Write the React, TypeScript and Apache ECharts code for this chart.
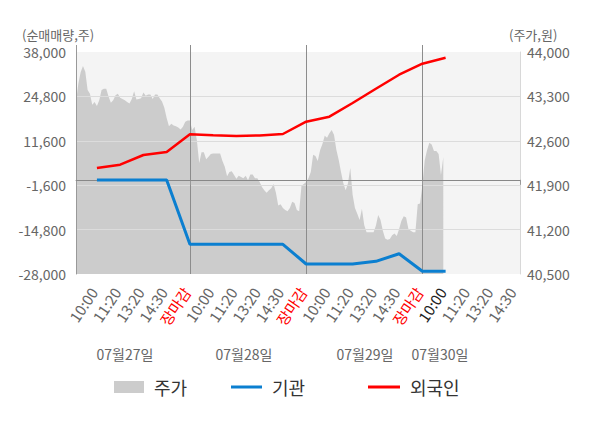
import React, { useEffect, useRef } from "react";
import * as echarts from "echarts";

// ---- data ----
const dayLabels = ["07월27일", "07월28일", "07월29일", "07월30일"];
const sessionTicks = ["10:00", "11:20", "13:20", "14:30", "장마감"];
const lastDayTicks = ["10:00", "11:20", "13:20", "14:30"];
const leftTicks = [-28000, -14800, -1600, 11600, 24800, 38000];
const rightTicks = [40500, 41200, 41900, 42600, 43300, 44000];

// 주가 (price), one value per time slot
const price = [
  43210, 43500, 43680, 43780, 43690, 43400, 43340, 43170, 43210, 43150,
  43240, 43400, 43420, 43420, 43300, 43200, 43240, 43320, 43340, 43280,
  43260, 43240, 43210, 43190, 43260, 43380, 43250, 43260, 43270, 43360,
  43310, 43330, 43330, 43260, 43330, 43330, 43270, 43220, 43120, 42960,
  42830, 42870, 42840, 42830, 42810, 42780, 42820, 42900, 42920, 42920,
  42770, 42820, 42610, 42250, 42420, 42420, 42310, 42350, 42390, 42400,
  42400, 42400, 42400, 42280, 42190, 42040, 42110, 42120, 42060, 42000,
  42050, 42030, 42010, 42050, 41980, 42070, 42070, 42010, 42010, 41950,
  41870, 41820, 41780, 41820, 41850, 41920, 41780, 41580, 41600, 41540,
  41510, 41490, 41540, 41640, 41620, 41510, 41490, 41890, 41920, 41950,
  42010, 42110, 42380, 42360, 42280, 42450, 42550, 42680, 42650, 42720,
  42770, 42690, 42460, 42300, 42110, 41930, 41820, 41930, 42170, 41750,
  41540, 41450, 41350, 41530, 41270, 41160, 41160, 41160, 41160, 41260,
  41430, 41350, 41180, 41060, 41040, 41050, 41110, 41140, 41100, 41210,
  41340, 41410, 41390, 41210, 41180, 41160, 41160, 41600, 41610, 41900,
  42290, 42450, 42570, 42540, 42440, 42440, 42390, 42060, 42340,
];

// 순매매량 at each labelled time point
const institution = [
  -50, -50, -50, -50, -19170,
  -19170, -19170, -19170, -19170, -25030,
  -25030, -25030, -24240, -21970, -27200,
  -27200,
];
const foreign = [
  3510, 4490, 7380, 8270, 13530,
  13230, 13030, 13180, 13620, 17280,
  18770, 22840, 27090, 31250, 34530,
  36300,
];

// ---- axis structure ----
const SLOTS_PER_TICK = 10;
const TOTAL_SLOTS = 192;
const tickTexts = [...sessionTicks, ...sessionTicks, ...sessionTicks, ...lastDayTicks];
const tickSlot = (k: number) => (k + 1) * SLOTS_PER_TICK - 1;
const categories = Array.from({ length: TOTAL_SLOTS }, (_, i) => String(i));
const labelAt = new Map<number, { text: string; k: number }>();
tickTexts.forEach((t, k) => labelAt.set(tickSlot(k), { text: t, k }));
const dayEnds: number[] = [];
tickTexts.forEach((t, k) => {
  if (t === "장마감") dayEnds.push(tickSlot(k));
});
const tickMarks = [0, ...dayEnds, TOTAL_SLOTS - 1];
const latestTick = 3 * sessionTicks.length; // first tick of last day

const toSlots = (vals: number[]) => {
  const arr: (number | null)[] = new Array(TOTAL_SLOTS).fill(null);
  vals.forEach((v, k) => {
    arr[tickSlot(k)] = v;
  });
  return arr;
};

const fmt = (v: number) => String(v).replace(/\B(?=(\d{3})+(?!\d))/g, ",");

const FONT = '"Noto Sans CJK KR", "Noto Sans", sans-serif';
const dayLabelX = [125, 244, 365, 440];

export default function App() {
  const ref = useRef<HTMLDivElement>(null);
  useEffect(() => {
    if (!ref.current) return;
    const chart = echarts.init(ref.current, undefined, { renderer: "svg" });
    const legendBase = {
      top: 378,
      padding: 0,
      itemWidth: 30,
      selectedMode: false,
      textStyle: { fontSize: 18, color: "#333", fontFamily: FONT, padding: [0, 0, 0, 5] },
    };
    const texts = [
      {
        type: "text",
        x: 22,
        y: 34,
        style: { text: "(순매매량,주)", font: `13px ${FONT}`, fill: "#666", align: "left", verticalAlign: "middle" },
      },
      {
        type: "text",
        x: 509,
        y: 34,
        style: { text: "(주가,원)", font: `13px ${FONT}`, fill: "#666", align: "left", verticalAlign: "middle" },
      },
      ...dayLabels.map((d, i) => ({
        type: "text",
        x: dayLabelX[i],
        y: 353.5,
        style: { text: d, font: `14px ${FONT}`, fill: "#666", align: "center", verticalAlign: "middle" },
      })),
    ];
    chart.setOption({
      animation: false,
      textStyle: { fontFamily: FONT },
      grid: {
        left: 76,
        right: 80,
        top: 52,
        bottom: 154,
        show: true,
        backgroundColor: "#f4f4f4",
        borderWidth: 0,
      },
      legend: [
        { ...legendBase, left: 114, itemHeight: 12, data: [{ name: "주가", icon: "rect" }] },
        { ...legendBase, left: 231, itemWidth: 31, itemHeight: 3, data: [{ name: "기관", icon: "rect" }] },
        { ...legendBase, left: 368, itemWidth: 32, itemHeight: 3, data: [{ name: "외국인", icon: "rect" }] },
      ],
      graphic: texts,
      xAxis: {
        type: "category",
        data: categories,
        boundaryGap: false,
        z: 3,
        axisLine: { show: true, lineStyle: { color: "#999" } },
        axisTick: {
          show: true,
          length: 5,
          interval: (i: number) => tickMarks.includes(i),
          lineStyle: { color: "#999" },
        },
        axisLabel: {
          interval: (i: number) => labelAt.has(i),
          rotate: 56,
          margin: 10,
          padding: [0, 6, 0, 0],
          fontSize: 15,
          fontFamily: FONT,
          formatter: (v: string) => labelAt.get(Number(v))?.text ?? "",
          color: (v: string) => {
            const l = labelAt.get(Number(v));
            if (!l) return "#666";
            if (l.text === "장마감") return "#ff0000";
            if (l.k === latestTick) return "#222";
            return "#666";
          },
        },
        splitLine: {
          show: true,
          interval: (i: number) => dayEnds.includes(i),
          lineStyle: { color: "#8c8c8c", width: 1 },
        },
      },
      yAxis: [
        {
          type: "value",
          position: "left",
          min: leftTicks[0],
          max: leftTicks[leftTicks.length - 1],
          z: 3,
          axisLine: { show: true, lineStyle: { color: "#999" } },
          axisTick: { show: false, customValues: leftTicks.slice(1, -1) },
          axisLabel: {
            customValues: leftTicks,
            formatter: (v: number) => fmt(v),
            color: "#666",
            fontSize: 14,
            fontFamily: FONT,
            margin: 10,
          },
          splitLine: { show: true, lineStyle: { color: "#dcdcdc", width: 1 } },
        },
        {
          type: "value",
          position: "right",
          min: rightTicks[0],
          max: rightTicks[rightTicks.length - 1],
          z: 3,
          axisLine: { show: true, lineStyle: { color: "#d8d8d8" } },
          axisTick: { show: false, customValues: rightTicks },
          axisLabel: {
            customValues: rightTicks,
            formatter: (v: number) => fmt(v),
            color: "#666",
            fontSize: 14,
            fontFamily: FONT,
            margin: 7,
          },
          splitLine: { show: false },
        },
      ],
      series: [
        {
          name: "주가",
          type: "line",
          yAxisIndex: 1,
          data: price,
          symbol: "none",
          z: 2,
          itemStyle: { color: "#cccccc" },
          lineStyle: { width: 0, color: "#cccccc" },
          areaStyle: { color: "#cccccc", opacity: 1, origin: "start" },
        },
        {
          name: "기관",
          type: "line",
          yAxisIndex: 0,
          data: toSlots(institution),
          connectNulls: true,
          symbol: "none",
          z: 5,
          itemStyle: { color: "#0b7fd0" },
          lineStyle: { color: "#0b7fd0", width: 3 },
          markLine: {
            silent: true,
            z: 4,
            symbol: ["none", "none"],
            label: { show: false },
            lineStyle: { color: "#888", width: 1, type: "solid" },
            data: [{ yAxis: 0 }],
          },
        },
        {
          name: "외국인",
          type: "line",
          yAxisIndex: 0,
          data: toSlots(foreign),
          connectNulls: true,
          symbol: "none",
          z: 6,
          itemStyle: { color: "#ff0000" },
          lineStyle: { color: "#ff0000", width: 2.5 },
        },
      ],
    });

    // short extensions of the left axis and day separators above the plot area
    const topY = chart.convertToPixel({ yAxisIndex: 0 }, leftTicks[leftTicks.length - 1]) as number;
    const ext = [0, ...dayEnds].map((idx) => {
      const x = Math.round(chart.convertToPixel({ xAxisIndex: 0 }, idx) as number) + 0.5;
      return {
        type: "line",
        shape: { x1: x, y1: topY - 7, x2: x, y2: topY },
        style: { stroke: idx === 0 ? "#999" : "#8c8c8c", lineWidth: 1 },
        silent: true,
      };
    });
    chart.setOption({ graphic: [...texts, ...ext] });

    return () => chart.dispose();
  }, []);
  return (
    <div
      ref={ref}
      style={{ position: "absolute", left: 0, top: 0, width: 600, height: 428 }}
    />
  );
}
